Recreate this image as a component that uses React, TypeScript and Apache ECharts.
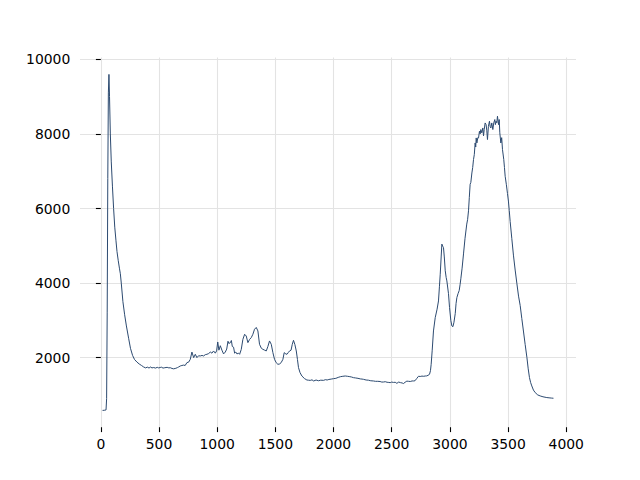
import React, { useEffect, useRef } from "react";
import * as echarts from "echarts";

const xValues: number[] = [
  15, 30, 45, 50, 55, 60, 65, 70, 75, 82, 90, 100, 110, 120, 130, 139, 150, 160, 168, 176,
  190, 205, 220, 239, 255, 273, 290, 311, 330, 350, 368, 385, 400, 415, 425, 440, 455, 470, 485, 497,
  510, 520, 535, 550, 570, 585, 597, 612, 626, 645, 660, 669, 683, 697, 712, 725, 740, 755, 769, 783,
  798, 812, 826, 840, 855, 870, 883, 898, 912, 927, 941, 955, 969, 984, 995, 1005, 1015, 1027, 1041, 1055,
  1070, 1082, 1093, 1100, 1113, 1122, 1130, 1141, 1150, 1160, 1170, 1184, 1193, 1207, 1221, 1236, 1250, 1264, 1279, 1293,
  1307, 1321, 1336, 1350, 1364, 1380, 1393, 1408, 1422, 1436, 1450, 1465, 1479, 1493, 1507, 1522, 1536, 1550, 1565, 1576,
  1590, 1600, 1612, 1622, 1635, 1645, 1656, 1668, 1680, 1690, 1699, 1712, 1728, 1750, 1771, 1785, 1800, 1815, 1829, 1850,
  1870, 1890, 1915, 1930, 1945, 1960, 1980, 2000, 2020, 2040, 2060, 2080, 2101, 2120, 2140, 2155, 2172, 2190, 2210, 2230,
  2245, 2258, 2280, 2300, 2320, 2344, 2360, 2380, 2400, 2415, 2430, 2445, 2460, 2475, 2487, 2500, 2515, 2530, 2544, 2560,
  2575, 2590, 2601, 2615, 2630, 2645, 2660, 2675, 2687, 2700, 2715, 2730, 2745, 2760, 2775, 2788, 2800, 2812, 2825, 2833,
  2839, 2848, 2859, 2874, 2890, 2902, 2910, 2917, 2925, 2931, 2938, 2945, 2952, 2960, 2968, 2974, 2988, 2997, 3008, 3017,
  3026, 3035, 3046, 3053, 3060, 3070, 3080, 3088, 3094, 3105, 3117, 3130, 3145, 3152, 3160, 3167, 3174, 3180, 3189, 3196,
  3203, 3210, 3217, 3222, 3226, 3232, 3240, 3246, 3254, 3260, 3266, 3274, 3283, 3289, 3295, 3303, 3311, 3317, 3323, 3331,
  3340, 3346, 3352, 3360, 3369, 3377, 3386, 3391, 3397, 3403, 3409, 3418, 3424, 3429, 3438, 3445, 3452, 3463, 3469, 3475,
  3485, 3495, 3503, 3510, 3518, 3532, 3546, 3561, 3576, 3590, 3604, 3618, 3632, 3647, 3662, 3673, 3684, 3694, 3704, 3718,
  3733, 3755, 3776, 3800, 3833, 3860, 3875, 3890,
];

const yValues: number[] = [
  585, 588, 598, 900, 3200, 6800, 9100, 9597, 9000, 8000, 7250, 6600, 6000, 5500, 5150, 4850, 4600, 4400, 4250, 4000,
  3500, 3150, 2850, 2520, 2250, 2060, 1950, 1880, 1830, 1790, 1750, 1725, 1745, 1720, 1750, 1725, 1735, 1720, 1740, 1725,
  1735, 1745, 1720, 1730, 1740, 1725, 1730, 1710, 1700, 1715, 1735, 1750, 1776, 1790, 1800, 1790, 1866, 1880, 1955, 2150,
  2000, 2090, 2000, 2050, 2045, 2060, 2045, 2080, 2090, 2110, 2150, 2120, 2179, 2120, 2180, 2420, 2200, 2320, 2200, 2100,
  2150, 2230, 2440, 2380, 2400, 2460, 2300, 2280, 2120, 2150, 2100, 2120, 2090, 2220, 2490, 2627, 2580, 2403, 2490, 2537,
  2627, 2761, 2810, 2716, 2358, 2250, 2224, 2200, 2180, 2300, 2448, 2358, 2134, 1955, 1866, 1821, 1830, 1866, 1955, 2134,
  2100, 2090, 2140, 2179, 2200, 2350, 2465, 2350, 2179, 1950, 1732, 1600, 1508, 1440, 1400, 1395, 1390, 1405, 1374, 1400,
  1380, 1395, 1391, 1410, 1400, 1415, 1425, 1436, 1445, 1470, 1490, 1500, 1508, 1500, 1490, 1480, 1463, 1455, 1445, 1430,
  1425, 1418, 1400, 1395, 1380, 1374, 1365, 1365, 1360, 1345, 1347, 1355, 1340, 1335, 1329, 1345, 1335, 1340, 1311, 1345,
  1330, 1320, 1305, 1340, 1370, 1365, 1360, 1375, 1374, 1380, 1440, 1500, 1495, 1505, 1500, 1508, 1510, 1525, 1553, 1650,
  1821, 2200, 2716, 3074, 3300, 3521, 3900, 4237, 4700, 5045, 4990, 4953, 4700, 4330, 4150, 4058, 3716, 3342, 3000, 2850,
  2830, 2950, 3182, 3450, 3611, 3716, 3800, 3969, 4116, 4400, 4782, 5200, 5582, 5700, 5938, 6300, 6649, 6700, 6953, 7100,
  7313, 7450, 7758, 7650, 7893, 7758, 7900, 7893, 8072, 8000, 8118, 8030, 8161, 7950, 8118, 8295, 8250, 8100, 7850, 8205,
  8340, 8200, 8160, 8295, 8118, 8295, 8386, 8250, 8340, 8300, 8475, 8250, 8386, 8030, 7758, 7900, 7580, 7313, 7100, 6865,
  6650, 6400, 6200, 5950, 5650, 5200, 4750, 4350, 3980, 3650, 3400, 3050, 2714, 2350, 2000, 1700, 1464, 1330, 1241, 1130,
  1063, 1000, 973, 950, 929, 920, 915, 911,
];

const xTicks: number[] = [0, 500, 1000, 1500, 2000, 2500, 3000, 3500, 4000];
const yTicks: number[] = [2000, 4000, 6000, 8000, 10000];

export default function App() {
  const ref = useRef<HTMLDivElement>(null);
  useEffect(() => {
    if (!ref.current) return;
    const chart = echarts.init(ref.current, null, { renderer: "svg" });
    const data = xValues.map((x, i) => [x, yValues[i]]);
    const xMinData = Math.min(...xValues);
    const xMaxData = Math.max(...xValues);
    const yMinData = Math.min(...yValues);
    const yMaxData = Math.max(...yValues);
    const xm = (xMaxData - xMinData) * 0.05;
    const ym = (yMaxData - yMinData) * 0.05;
    const font = {
      fontFamily: "DejaVu Sans",
      fontSize: 13.9,
      color: "#000",
      formatter: (v: number) => String(v),
    };
    chart.setOption({
      animation: false,
      grid: { left: 80, right: 64, top: 57.6, bottom: 52.8, containLabel: false },
      xAxis: {
        type: "value",
        min: xMinData - xm,
        max: xMaxData + xm,
        axisLine: { show: false },
        axisTick: {
          show: true,
          length: 4.9,
          lineStyle: { color: "#000", width: 1.1 },
          customValues: xTicks,
        },
        axisLabel: { ...font, margin: 9.7, customValues: xTicks },
        splitLine: { show: true, lineStyle: { color: "#e3e3e3", width: 1.1 } },
      },
      yAxis: {
        type: "value",
        min: yMinData - ym,
        max: yMaxData + ym,
        axisLine: { show: false },
        axisTick: {
          show: true,
          length: 4.9,
          lineStyle: { color: "#000", width: 1.1 },
          customValues: yTicks,
        },
        axisLabel: { ...font, margin: 9.7, customValues: yTicks },
        splitLine: { show: true, lineStyle: { color: "#e3e3e3", width: 1.1 } },
      },
      series: [
        {
          type: "line",
          data,
          showSymbol: false,
          symbol: "none",
          lineStyle: { color: "#2c4a70", width: 1 },
        },
      ],
    });
    return () => chart.dispose();
  }, []);
  return (
    <div
      ref={ref}
      style={{ position: "fixed", left: 0, top: 0, width: 640, height: 480, background: "#fff" }}
    />
  );
}
